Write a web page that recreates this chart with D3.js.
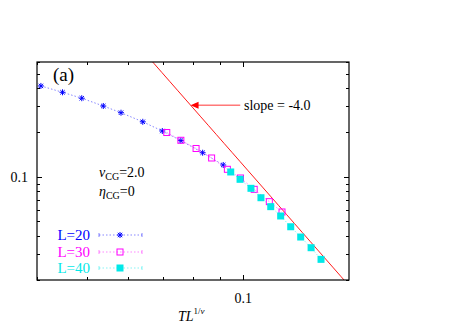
<!DOCTYPE html>
<html>
<head>
<meta charset="utf-8">
<script src="https://cdn.jsdelivr.net/npm/d3@7"></script>
<style>
  body { margin: 0; background: #fff; }
  text { font-family: "Liberation Serif", "Times New Roman", serif; }
</style>
</head>
<body>
<div id="chart"></div>
<script>
const w = 467;
const h = 327;

// data
const x20 = [0.0407, 0.0448, 0.0488, 0.0537, 0.0581, 0.0640, 0.0698, 0.0758, 0.0835, 0.0915];
const y20 = [0.413, 0.374, 0.341, 0.302, 0.272, 0.236, 0.2045, 0.176, 0.1457, 0.1203];
const x30 = [0.0712, 0.0758, 0.0811, 0.0869, 0.0932, 0.0988, 0.1050, 0.1123, 0.1188];
const y30 = [0.1997, 0.1769, 0.1556, 0.1342, 0.1125, 0.0982, 0.0823, 0.0679, 0.0578];
const x40 = [0.0946, 0.0986, 0.1035, 0.1082, 0.1130, 0.1181, 0.1235, 0.1291, 0.1352, 0.1413];
const y40 = [0.1079, 0.0962, 0.0836, 0.0722, 0.0628, 0.0543, 0.0459, 0.0391, 0.0331, 0.0276];
const labels = ["L=20", "L=30", "L=40"];
const colors = ["#0000ff", "#ff00ff", "#00e8e8"];
const xTicks = [0.04, 0.05, 0.06, 0.07, 0.08, 0.09, 0.1];
const yTicks = [0.02, 0.03, 0.04, 0.05, 0.06, 0.07, 0.08, 0.09, 0.1, 0.2, 0.3, 0.4, 0.5, 0.6];
const slope = -4.0;
const amp = 1.2e-5;

const pLeft = 37, pRight = 349, pTop = 62, pBottom = 280;

const x = d3.scaleLog().domain([0.04, 0.16]).range([pLeft, pRight]);
const y = d3.scaleLog().domain([0.02, 0.6]).range([pBottom, pTop]);

const svg = d3.select("#chart").append("svg").attr("width", w).attr("height", h);

svg.append("clipPath").attr("id", "clip")
  .append("rect").attr("x", pLeft).attr("y", pTop).attr("width", pRight - pLeft).attr("height", pBottom - pTop);

// ticks, inward, mirrored
function isMajor(v) { return Math.abs(v - 0.1) < 1e-9; }
const tg = svg.append("g").attr("stroke", "#000").attr("stroke-width", 1);
xTicks.forEach(v => {
  const len = isMajor(v) ? 5 : 3;
  const px = Math.round(x(v)) + 0.5;
  tg.append("line").attr("x1", px).attr("x2", px).attr("y1", pBottom).attr("y2", pBottom - len);
  tg.append("line").attr("x1", px).attr("x2", px).attr("y1", pTop).attr("y2", pTop + len);
});
yTicks.forEach(v => {
  const len = isMajor(v) ? 5 : 3;
  const py = Math.round(y(v)) + 0.5;
  tg.append("line").attr("x1", pLeft).attr("x2", pLeft + len).attr("y1", py).attr("y2", py);
  tg.append("line").attr("x1", pRight).attr("x2", pRight - len).attr("y1", py).attr("y2", py);
});

svg.append("text").attr("x", x(0.1)).attr("y", 303).attr("text-anchor", "middle")
  .style("font-size", "14px").text("0.1");
svg.append("text").attr("x", 28).attr("y", y(0.1) + 5).attr("text-anchor", "end")
  .style("font-size", "14px").text("0.1");

// slope line
const plot = svg.append("g").attr("clip-path", "url(#clip)");
const fx = d3.range(0, 41).map(i => 0.04 * Math.pow(4, i / 40));
plot.append("path")
  .datum(fx)
  .attr("fill", "none").attr("stroke", "#ff0000").attr("stroke-width", 0.9)
  .attr("d", d3.line().x(d => x(d)).y(d => y(amp * Math.pow(d, slope))));

// arrow from label to line
const ay = 0.306;
const ax = Math.pow(ay / amp, 1 / slope);
svg.append("line").attr("x1", x(0.1) - 3).attr("x2", x(ax) + 6)
  .attr("y1", y(ay)).attr("y2", y(ay)).attr("stroke", "#ff0000").attr("stroke-width", 0.8);
svg.append("path")
  .attr("d", "M" + x(ax) + "," + y(ay) + "l8,-3.5l0,7z")
  .attr("fill", "#ff0000");
svg.append("text").attr("x", 244).attr("y", y(ay) + 5)
  .style("font-size", "14px").text("slope = -4.0");

// markers
function marker(g, kind, color, cx, cy) {
  if (kind === 0) {
    g.append("path")
      .attr("d", "M-3,0H3M0,-3V3M-2.2,-2.2L2.2,2.2M-2.2,2.2L2.2,-2.2")
      .attr("transform", "translate(" + cx + "," + cy + ")")
      .attr("stroke", color).attr("stroke-width", 1).attr("fill", "none");
  } else if (kind === 1) {
    g.append("rect").attr("x", cx - 3).attr("y", cy - 3).attr("width", 6).attr("height", 6)
      .attr("stroke", color).attr("stroke-width", 1).attr("fill", "none");
  } else {
    g.append("rect").attr("x", cx - 3.5).attr("y", cy - 3.5).attr("width", 7).attr("height", 7)
      .attr("fill", color);
  }
}

const series = [[x20, y20], [x30, y30], [x40, y40]];
series.forEach((s, k) => {
  const pts = s[0].map((v, i) => [v, s[1][i]]);
  const g = plot.append("g");
  g.append("path").datum(pts)
    .attr("fill", "none").attr("stroke", colors[k]).attr("stroke-width", 0.8)
    .attr("stroke-opacity", 0.6).attr("stroke-dasharray", "1.5,2")
    .attr("d", d3.line().x(d => x(d[0])).y(d => y(d[1])));
  pts.forEach(d => marker(g, k, colors[k], x(d[0]), y(d[1])));
});

// legend
const ly = [235, 252, 268];
labels.forEach((t, k) => {
  svg.append("text").attr("x", 90).attr("y", ly[k] + 5).attr("text-anchor", "end")
    .style("font-size", "15px").attr("fill", colors[k]).text(t);
  const g = svg.append("g");
  g.append("line").attr("x1", 99).attr("x2", 142).attr("y1", ly[k]).attr("y2", ly[k])
    .attr("stroke", colors[k]).attr("stroke-width", 0.8).attr("stroke-opacity", 0.6)
    .attr("stroke-dasharray", "1.5,2");
  [99, 142].forEach(cx => g.append("line").attr("x1", cx).attr("x2", cx)
    .attr("y1", ly[k] - 2).attr("y2", ly[k] + 2).attr("stroke", colors[k])
    .attr("stroke-width", 0.8).attr("stroke-opacity", 0.6));
  marker(g, k, colors[k], 120, ly[k]);
});

// annotations
const t1 = svg.append("text").attr("x", 99).attr("y", 177).style("font-size", "14px");
t1.append("tspan").style("font-style", "italic").text("ν");
t1.append("tspan").attr("dy", 3).style("font-size", "10px").text("CG");
t1.append("tspan").attr("dy", -3).text("=2.0");
const t2 = svg.append("text").attr("x", 99).attr("y", 196).style("font-size", "14px");
t2.append("tspan").style("font-style", "italic").text("η");
t2.append("tspan").attr("dy", 3).style("font-size", "10px").text("CG");
t2.append("tspan").attr("dy", -3).text("=0");

svg.append("text").attr("x", 53).attr("y", 81).style("font-size", "19px").text("(a)");

const xt = svg.append("text").attr("x", 178).attr("y", 321).style("font-size", "14px");
xt.append("tspan").style("font-style", "italic").text("TL");
xt.append("tspan").attr("dy", -7).style("font-size", "9px").text("1/");
xt.append("tspan").style("font-size", "9px").style("font-style", "italic").text("ν");

// frame
svg.append("rect").attr("x", pLeft).attr("y", pTop).attr("width", pRight - pLeft).attr("height", pBottom - pTop)
  .attr("fill", "none").attr("stroke", "#000").attr("stroke-width", 1.2);
</script>
</body>
</html>
